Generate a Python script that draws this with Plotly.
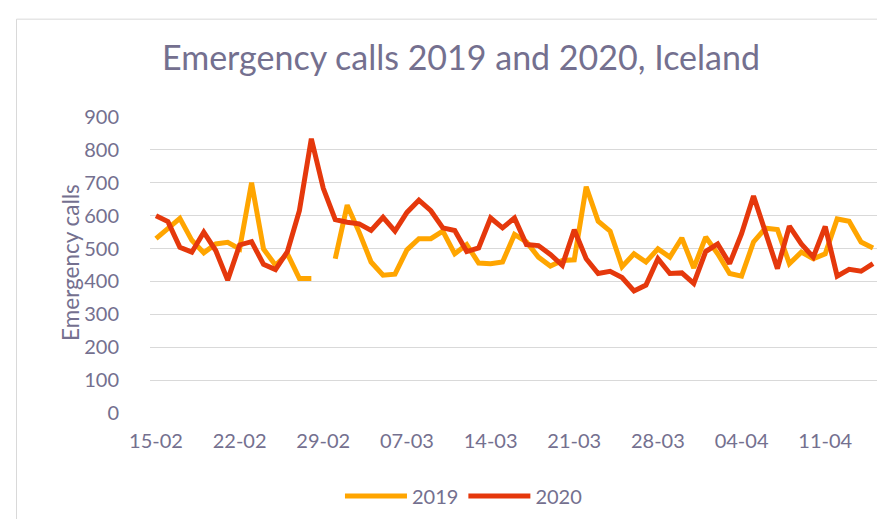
import pandas as pd
import plotly.graph_objects as go

dates = pd.date_range("2020-02-15", "2020-04-15", freq="D")

calls_2019 = [530, 561, 592, 525, 487, 514, 519, 499, 700, 499,
              449, 484, 409, 409, None, 469, 632, 550, 459, 419,
              422, 496, 530, 530, 553, 484, 512, 456, 454, 459,
              543, 520, 474, 447, 464, 466, 688, 583, 553, 445,
              484, 459, 499, 474, 532, 441, 535, 484, 424, 416,
              520, 562, 558, 454, 489, 469, 484, 590, 583, 520,
              502]

calls_2020 = [600, 582, 504, 489, 550, 494, 404, 511, 521, 452,
              436, 491, 615, 834, 683, 588, 580, 575, 555, 595,
              553, 610, 647, 615, 563, 555, 491, 502, 593, 563,
              593, 512, 509, 482, 449, 557, 469, 424, 431, 412,
              371, 389, 469, 424, 426, 394, 491, 514, 454, 545,
              660, 555, 439, 568, 514, 474, 567, 416, 437, 431,
              454]

y_ticks = [0, 100, 200, 300, 400, 500, 600, 700, 800, 900]

TEXT = "#74708f"
GRID = "#d9d9d9"
FONT = "Lato, 'Open Sans', sans-serif"

fig = go.Figure()
fig.add_trace(go.Scatter(x=dates, y=calls_2019, name="2019", mode="lines",
                         line=dict(color="#FFA500", width=5),
                         connectgaps=False))
fig.add_trace(go.Scatter(x=dates, y=calls_2020, name="2020", mode="lines",
                         line=dict(color="#E5380C", width=5)))

fig.update_layout(
    width=885, height=519,
    margin=dict(l=142, r=14, t=109, b=112),
    paper_bgcolor="white", plot_bgcolor="white",
    font=dict(family=FONT, color=TEXT, size=20),
    title=dict(text="Emergency calls 2019 and 2020, Iceland",
               x=453/885, xanchor="center", xref="container",
               y=1-50/519, yanchor="middle", yref="container",
               font=dict(size=34, color=TEXT, family=FONT)),
    showlegend=True,
    legend=dict(orientation="h", x=0.43, xanchor="center",
                y=-0.28, yanchor="middle",
                font=dict(size=20, color=TEXT, family=FONT),
                itemwidth=62, traceorder="normal"),
    xaxis=dict(
        range=["2020-02-14 12:00", "2020-04-15 12:00"],
        tick0="2020-02-15", dtick=7*86400000, tickformat="%d-%m",
        showgrid=False, zeroline=False, showline=False,
        ticks="", ticklabelstandoff=14,
        tickfont=dict(size=20, color=TEXT, family=FONT),
    ),
    yaxis=dict(
        range=[0, 900], tickvals=y_ticks,
        showgrid=True, gridcolor=GRID, gridwidth=1,
        zeroline=False, showline=False, ticks="",
        ticklabelstandoff=30,
        tickfont=dict(size=20, color=TEXT, family=FONT),
    ),
    annotations=[dict(text="Emergency calls", textangle=-90,
                      x=(63-142)/729, y=0.507, xref="paper", yref="paper",
                      xanchor="center", yanchor="middle", showarrow=False,
                      font=dict(size=22.5, color=TEXT, family=FONT))],
    shapes=[dict(type="rect", xref="paper", yref="paper",
                 x0=(8.5-142)/729, x1=(884-142)/729,
                 y0=(407-518.5)/298, y1=(407-10.5)/298,
                 line=dict(color=GRID, width=1), layer="below")],
)

fig.write_html("out.html")
